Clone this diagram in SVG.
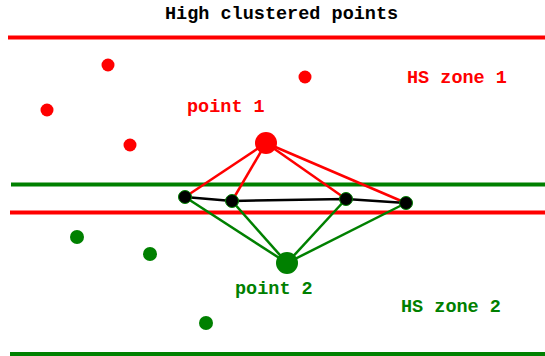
<svg xmlns="http://www.w3.org/2000/svg" width="545" height="356" viewBox="0 0 545 356">
<style>
text{font-family:"Liberation Mono","Courier New",monospace;font-weight:bold;font-size:18.5px}
.r{fill:#ff0000}
.g{fill:#008000}
.hr{stroke:#ff0000;stroke-width:4}
.hg{stroke:#008000;stroke-width:4}
.er{stroke:#ff0000;stroke-width:2.5}
.eg{stroke:#008000;stroke-width:2.5}
.ek{stroke:#000000;stroke-width:2.5}
.k{fill:#000000;stroke:#008000;stroke-width:1}
</style>
<rect width="545" height="356" fill="#ffffff"/>
<text x="165" y="19" fill="#000000">High clustered points</text>
<g id="zones">
<line class="hr" x1="8" y1="37.5" x2="545" y2="37.5"/>
<line class="hg" x1="11" y1="184.5" x2="545" y2="184.5"/>
<line class="hr" x1="10" y1="212.5" x2="545" y2="212.5"/>
<line class="hg" x1="10" y1="354" x2="545" y2="354"/>
</g>
<text x="407" y="83" class="r">HS zone 1</text>
<text x="401" y="312" class="g">HS zone 2</text>
<g id="connectors">
<line class="er" x1="266" y1="143" x2="185" y2="197"/>
<line class="er" x1="266" y1="143" x2="232" y2="201"/>
<line class="er" x1="266" y1="143" x2="346" y2="199"/>
<line class="er" x1="266" y1="143" x2="406" y2="203"/>
<line class="eg" x1="287" y1="263" x2="185" y2="197"/>
<line class="eg" x1="287" y1="263" x2="232" y2="201"/>
<line class="eg" x1="287" y1="263" x2="346" y2="199"/>
<line class="eg" x1="287" y1="263" x2="406" y2="203"/>
<polyline fill="none" class="ek" points="185,197 232,201 346,199 406,203"/>
</g>
<g id="red-points">
<circle class="r" cx="108" cy="65" r="6.5"/>
<circle class="r" cx="47" cy="110" r="6.5"/>
<circle class="r" cx="130" cy="145" r="6.5"/>
<circle class="r" cx="305" cy="77" r="6.5"/>
</g>
<g id="green-points">
<circle class="g" cx="77" cy="237" r="7"/>
<circle class="g" cx="150" cy="254" r="7"/>
<circle class="g" cx="206" cy="323" r="7"/>
</g>
<g id="point1">
<circle class="r" cx="266" cy="143" r="11"/>
<text x="187" y="112" class="r">point 1</text>
</g>
<g id="point2">
<circle class="g" cx="287" cy="263" r="11"/>
<text x="235" y="294" class="g">point 2</text>
</g>
<g id="n1"><circle class="k" cx="185" cy="197" r="6.5"/></g>
<g id="n2"><circle class="k" cx="232" cy="201" r="6.5"/></g>
<g id="n3"><circle class="k" cx="346" cy="199" r="6.5"/></g>
<g id="n4"><circle class="k" cx="406" cy="203" r="6.5"/></g>
</svg>
